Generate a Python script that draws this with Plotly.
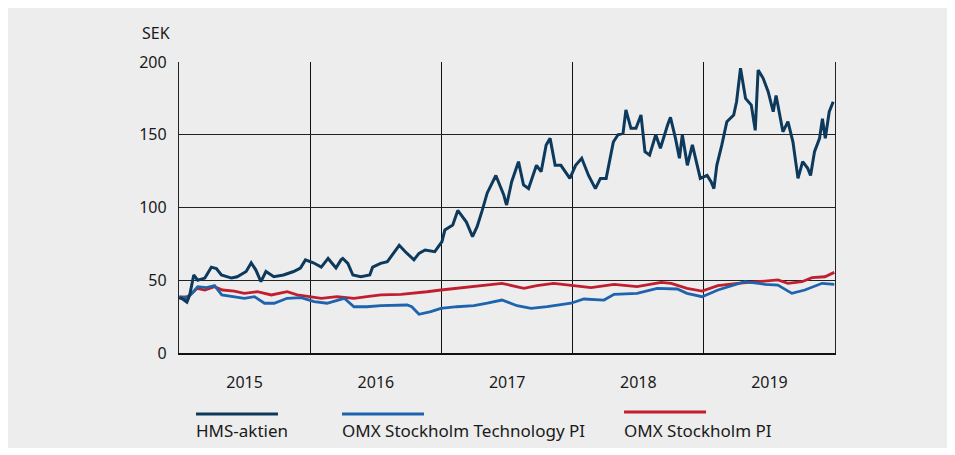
import plotly.graph_objects as go

# ---------------- data ----------------
series_names = ["HMS-aktien", "OMX Stockholm Technology PI", "OMX Stockholm PI"]

hms_dates = [
    "2015-01-02", "2015-01-12", "2015-01-23", "2015-01-31", "2015-02-11", "2015-02-22",
    "2015-03-14", "2015-04-01", "2015-04-15", "2015-04-29", "2015-05-27", "2015-06-12",
    "2015-07-07", "2015-07-21", "2015-08-03", "2015-08-17", "2015-08-31", "2015-09-22",
    "2015-10-19", "2015-11-16", "2015-12-05", "2015-12-19",
    "2016-01-10", "2016-02-01", "2016-02-20", "2016-03-13", "2016-03-27", "2016-04-01",
    "2016-04-15", "2016-04-29", "2016-05-21", "2016-06-15", "2016-06-23", "2016-07-15",
    "2016-08-03", "2016-08-25", "2016-09-05", "2016-09-22", "2016-10-16", "2016-10-30",
    "2016-11-16", "2016-12-13", "2017-01-02",
    "2017-01-10", "2017-02-01", "2017-02-15", "2017-03-11", "2017-03-28", "2017-04-10",
    "2017-04-24", "2017-05-08", "2017-06-01", "2017-06-15", "2017-06-23", "2017-06-29",
    "2017-07-01", "2017-07-15", "2017-08-03", "2017-08-17", "2017-08-31", "2017-09-22",
    "2017-10-05", "2017-10-19", "2017-10-30", "2017-11-13", "2017-11-29", "2017-12-24",
    "2018-01-09", "2018-01-26", "2018-02-14", "2018-03-05", "2018-03-19", "2018-04-04",
    "2018-04-15", "2018-04-24", "2018-05-07", "2018-05-21", "2018-05-29", "2018-06-12",
    "2018-06-26", "2018-07-10", "2018-07-21", "2018-08-03", "2018-08-20", "2018-09-02",
    "2018-09-22", "2018-09-30", "2018-10-14", "2018-10-25", "2018-11-02", "2018-11-16",
    "2018-11-30", "2018-12-14", "2018-12-22",
    "2019-01-10", "2019-01-21", "2019-01-29", "2019-02-06", "2019-02-20", "2019-03-06",
    "2019-03-25", "2019-04-02", "2019-04-13", "2019-04-27", "2019-05-13", "2019-05-24",
    "2019-06-01", "2019-06-15", "2019-06-29", "2019-07-13", "2019-07-21", "2019-08-09",
    "2019-08-23", "2019-09-06", "2019-09-20", "2019-10-03", "2019-10-17", "2019-10-25",
    "2019-11-05", "2019-11-19", "2019-11-27", "2019-12-05", "2019-12-16", "2019-12-27",
]
hms_values = [
    38, 37, 35, 40, 53.6, 50,
    51.5, 59, 58, 53.6, 51.5, 52.4,
    56, 62, 57, 49, 56, 52.4,
    53.6, 56, 58.4, 64,
    62, 59, 65, 58.4, 64, 65,
    61.6, 53.6, 52.4, 53.6, 59, 61.6,
    62.8, 70.8, 74, 69.6, 64, 68.5,
    70.8, 69.6, 76.5,
    84.5, 88, 98, 90, 80, 87,
    98, 110, 122, 114, 108.6, 103,
    101.7, 117.7, 131.5, 115.5, 113, 129,
    124.6, 143, 147.5, 129, 129, 120,
    129, 133.8, 122, 113, 120, 120,
    134, 145, 150, 151, 167, 154.4,
    154.4, 163.6, 138.4, 136, 150, 140.7,
    156.7, 162, 147.5, 133.8, 150, 129,
    143, 129, 120,
    122, 117.7, 113, 129, 143, 159,
    163.6, 172.7, 195.7, 175, 170.4, 153,
    194.5, 188.8, 179.6, 165.8, 177, 152,
    159, 145, 120, 131.5, 127, 122,
    138.4, 147.5, 161, 147.5, 165.8, 172.7,
]

tech_dates = [
    "2015-01-02", "2015-01-18", "2015-02-06", "2015-02-22", "2015-03-19", "2015-04-10",
    "2015-04-30", "2015-05-30", "2015-07-02", "2015-07-30", "2015-08-27", "2015-09-23",
    "2015-10-29", "2015-12-07", "2016-01-12", "2016-02-17", "2016-04-05", "2016-05-02",
    "2016-06-07", "2016-07-16", "2016-09-27", "2016-10-10", "2016-10-30", "2016-12-02",
    "2016-12-30", "2017-02-13", "2017-04-01", "2017-05-08", "2017-06-18", "2017-07-30",
    "2017-09-07", "2017-10-22", "2017-12-27", "2018-02-01", "2018-03-29", "2018-04-26",
    "2018-06-29", "2018-08-24", "2018-10-19", "2018-11-15", "2018-12-27", "2019-02-09",
    "2019-04-25", "2019-06-20", "2019-07-26", "2019-09-03", "2019-10-09", "2019-11-26",
    "2019-12-30",
]
tech_values = [
    38.7, 37.6, 41, 45.6, 44.9, 46.3,
    39.9, 38.7, 37.6, 38.7, 34.2, 34.2,
    37.6, 38, 35.3, 34.2, 37.6, 31.8,
    31.8, 32.5, 33, 31.8, 26.6, 28.4,
    30.7, 31.8, 32.5, 34.2, 36.4, 32.5,
    30.7, 31.8, 34.2, 37.1, 36.4, 40.3,
    41, 44.4, 44, 41, 38.7, 43.3,
    49, 47.2, 46.7, 41, 43.3, 47.9,
    47.2,
]

omx_dates = [
    "2015-01-02", "2015-01-27", "2015-02-20", "2015-03-14", "2015-04-10", "2015-05-02",
    "2015-06-04", "2015-07-02", "2015-08-07", "2015-09-15", "2015-10-29", "2015-11-26",
    "2015-12-30", "2016-02-01", "2016-03-16", "2016-05-02", "2016-06-07", "2016-07-16",
    "2016-09-10", "2016-10-16", "2016-11-21", "2016-12-30", "2017-02-13", "2017-04-01",
    "2017-04-29", "2017-06-18", "2017-08-18", "2017-09-23", "2017-11-09", "2017-12-27",
    "2018-02-21", "2018-04-26", "2018-06-29", "2018-09-04", "2018-10-02", "2018-11-15",
    "2018-12-27", "2019-02-09", "2019-04-05", "2019-05-31", "2019-07-26", "2019-08-23",
    "2019-10-01", "2019-10-29", "2019-12-04", "2019-12-30",
]
omx_values = [
    38.3, 38.7, 44.4, 43.3, 45.6, 43.3,
    42.6, 41, 42.1, 39.9, 42.1, 39.9,
    38.7, 37.6, 38.7, 37.6, 38.7, 39.9,
    40.3, 41, 42.1, 43.3, 44.4, 45.6,
    46.7, 47.9, 44.4, 46.3, 47.9, 46.7,
    44.9, 47.2, 45.6, 48.6, 47.9, 44.4,
    42.6, 46.3, 47.9, 49, 50.2, 47.9,
    49, 51.8, 52.4, 55.4,
]

y_ticks = [0, 50, 100, 150, 200]
y_unit = "SEK"

# ---------------- style ----------------
BG = "#ededed"
FONT = "Noto Sans, Open Sans, DejaVu Sans, sans-serif"
TXT = "#1a1a1a"
colors = {"HMS-aktien": "#0d3a5c",
          "OMX Stockholm Technology PI": "#1e63ae",
          "OMX Stockholm PI": "#c01f2f"}
widths = {"HMS-aktien": 3.0,
          "OMX Stockholm Technology PI": 2.8,
          "OMX Stockholm PI": 2.8}

fig = go.Figure()
for name, xs, ys in [("OMX Stockholm PI", omx_dates, omx_values),
                     ("OMX Stockholm Technology PI", tech_dates, tech_values),
                     ("HMS-aktien", hms_dates, hms_values)]:
    fig.add_trace(go.Scatter(x=xs, y=ys, mode="lines", name=name,
                             line=dict(color=colors[name], width=widths[name]),
                             showlegend=False, hoverinfo="x+y+name"))

fig.update_layout(
    width=939, height=440,
    margin=dict(l=171, r=112, t=54, b=95),
    paper_bgcolor=BG, plot_bgcolor=BG,
    font=dict(family=FONT, size=16, color=TXT),
    showlegend=False,
)
fig.update_xaxes(
    type="date", range=["2015-01-01", "2020-01-01"],
    tick0="2015-01-01", dtick="M12", tickformat="%Y", ticklabelmode="period",
    showgrid=True, gridcolor="#111111", gridwidth=1.4,
    showline=True, linecolor="#111111", linewidth=1.6,
    ticks="", ticklabelstandoff=14, zeroline=False,
)
fig.update_yaxes(
    range=[0, 200], tickvals=y_ticks,
    showgrid=True, gridcolor="#222222", gridwidth=1.2,
    showline=True, linecolor="#222222", linewidth=1.4, mirror=True,
    ticks="", ticklabelstandoff=8, zeroline=False,
)

# unit label
fig.add_annotation(text=y_unit, xref="paper", yref="paper", x=-0.0595, y=1.0997,
                   xanchor="left", yanchor="middle", showarrow=False,
                   font=dict(size=16, color=TXT))

# custom legend: line above label
legend_x = {"HMS-aktien": 0.0259, "OMX Stockholm Technology PI": 0.2485, "OMX Stockholm PI": 0.6784}
legend_line_y = {"HMS-aktien": -0.2096, "OMX Stockholm Technology PI": -0.2096, "OMX Stockholm PI": -0.2027}
seg = 0.125
for name in series_names:
    x0 = legend_x[name]
    fig.add_shape(type="line", xref="paper", yref="paper", x0=x0, x1=x0 + seg,
                  y0=legend_line_y[name], y1=legend_line_y[name],
                  line=dict(color=colors[name], width=3))
    fig.add_annotation(text=name, xref="paper", yref="paper", x=x0, y=-0.265,
                       xanchor="left", yanchor="middle", showarrow=False, xshift=-2,
                       font=dict(size=17, color=TXT))

fig.write_html("out.html")
